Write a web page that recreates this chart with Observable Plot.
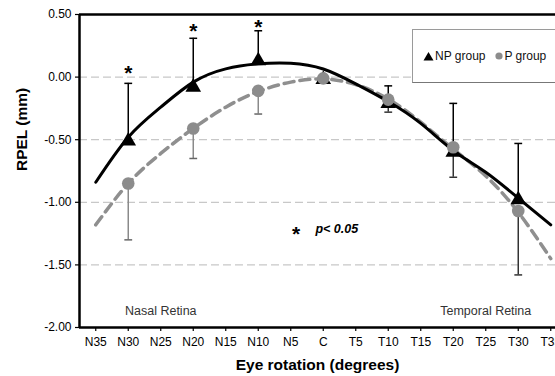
<!DOCTYPE html>
<html>
<head>
<meta charset="utf-8">
<script src="https://cdn.jsdelivr.net/npm/d3@7"></script>
<script src="https://cdn.jsdelivr.net/npm/@observablehq/plot@0.6"></script>
<style>
  html, body { margin: 0; padding: 0; background: #fff; overflow: hidden; }
  #wrap { position: relative; width: 555px; height: 376px; overflow: hidden; font-family: "Liberation Sans", Arial, sans-serif; }
  #legend { position: absolute; left: 412px; top: 29px; width: 170px; height: 54px; box-sizing: border-box;
    border: 1.5px solid #9a9a9a; border-bottom-color: #777; background: #fff; display: flex; align-items: center;
    padding-left: 10px; font-size: 12px; color: #111; white-space: nowrap; }
  #legend svg { display: block; }
</style>
</head>
<body>
<div id="wrap">
  <div id="chart"></div>
  <div id="legend">
    <svg width="11" height="10"><path d="M5.5,1 L10.5,9.5 L0.5,9.5 Z" fill="#000"/></svg>
    <span style="margin-left:1px">NP group</span>
    <svg width="8" height="8" style="margin-left:10px"><circle cx="4" cy="4" r="3.6" fill="#8c8c8c"/></svg>
    <span style="margin-left:1px">P group</span>
  </div>
</div>
<script>
// ---- data ----
const tickDeg = [-35, -30, -25, -20, -15, -10, -5, 0, 5, 10, 15, 20, 25, 30, 35];
const tickLabels = ["N35","N30","N25","N20","N15","N10","N5","C","T5","T10","T15","T20","T25","T30","T35"];
const yTicks = [0.5, 0, -0.5, -1, -1.5, -2];

// measured points (degrees)
const ptDeg = [-30, -20, -10, 0, 10, 20, 30];
const npMean  = [-0.51, -0.08, 0.13, -0.02, -0.21, -0.60, -0.98];
const npUpper = [-0.05, 0.31, 0.37, null, -0.07, -0.21, -0.53];
const pMean   = [-0.85, -0.41, -0.11, -0.01, -0.18, -0.56, -1.07];
const pLower  = [-1.30, -0.65, -0.295, null, -0.28, -0.80, -1.58];

// fitted curves read at each tick
const npCurve = [-0.84, -0.48, -0.24, -0.04, 0.066, 0.106, 0.111, 0.065, -0.054, -0.195, -0.37, -0.586, -0.76, -0.967, -1.18];
const pCurve  = [-1.18, -0.85, -0.61, -0.41, -0.24, -0.115, -0.04, -0.015, -0.06, -0.175, -0.36, -0.575, -0.79, -1.08, -1.45];

// significance markers
const sigDeg = [-30, -20, -10];
const sigY = [0.07, 0.41, 0.44];

// ---- tables ----
const npRows = ptDeg.map((deg, i) => ({deg, mean: npMean[i], upper: npUpper[i]}));
const pRows = ptDeg.map((deg, i) => ({deg, mean: pMean[i], lower: pLower[i]}));
const npBars = npRows.filter(d => d.upper != null);
const pBars = pRows.filter(d => d.lower != null);
const npLine = tickDeg.map((deg, i) => ({deg, v: npCurve[i]}));
const pLine = tickDeg.map((deg, i) => ({deg, v: pCurve[i]}));
const sig = sigDeg.map((deg, i) => ({deg, y: sigY[i]}));

const capHalf = 0.6;

const chart = Plot.plot({
  width: 555,
  height: 376,
  marginLeft: 79,
  marginRight: 0,
  marginTop: 14,
  marginBottom: 49,
  style: {fontFamily: "'Liberation Sans', Arial, sans-serif", fontSize: "12px", color: "#000", background: "#fff"},
  x: {type: "linear", domain: [-37.5, 35.73]},
  y: {domain: [-2, 0.5]},
  marks: [
    Plot.ruleY([0, -0.5, -1, -1.5], {stroke: "#c8c8c8", strokeWidth: 1.3, strokeDasharray: "8,4"}),
    Plot.axisX({ticks: tickDeg, tickFormat: d => tickLabels[tickDeg.indexOf(d)], tickSize: 4, tickPadding: 6, label: null, fontSize: 12, strokeWidth: 1.2}),
    Plot.axisY({ticks: yTicks, tickFormat: d => d.toFixed(2), tickSize: 4, tickPadding: 4, label: null, fontSize: 12, strokeWidth: 1.2}),
    Plot.text(["Eye rotation (degrees)"], {frameAnchor: "bottom", dy: 38, lineAnchor: "middle", fontWeight: "bold", fontSize: 15.5}),
    Plot.text(["RPEL (mm)"], {frameAnchor: "left", dx: -57, rotate: -90, fontWeight: "bold", fontSize: 15.5}),
    // curves
    Plot.line(pLine, {x: "deg", y: "v", curve: "natural", stroke: "#8f8f8f", strokeWidth: 3.5, strokeDasharray: "10,6"}),
    Plot.line(npLine, {x: "deg", y: "v", curve: "natural", stroke: "#000", strokeWidth: 3}),
    // error bars
    Plot.ruleX(pBars, {x: "deg", y1: "mean", y2: "lower", stroke: d => d.deg < 0 ? "#8a8a8a" : "#333", strokeWidth: 1.5}),
    Plot.link(pBars, {x1: d => d.deg - capHalf, x2: d => d.deg + capHalf, y1: "lower", y2: "lower", stroke: d => d.deg < 0 ? "#666" : "#333", strokeWidth: 1.5}),
    Plot.ruleX(npBars, {x: "deg", y1: "mean", y2: "upper", stroke: "#000", strokeWidth: 1.5}),
    Plot.link(npBars, {x1: d => d.deg - capHalf, x2: d => d.deg + capHalf, y1: "upper", y2: "upper", stroke: "#000", strokeWidth: 1.5}),
    // points
    Plot.dot(npRows, {x: "deg", y: "mean", symbol: "triangle", r: 5.8, fill: "#000", stroke: "none"}),
    Plot.dot(pRows, {x: "deg", y: "mean", symbol: "circle", r: 6.3, fill: "#8c8c8c", stroke: "none"}),
    // significance
    Plot.text(sig, {x: "deg", y: "y", text: () => "*", fontWeight: "bold", fontSize: 21, dy: 5}),
    Plot.text(["*"], {x: -4.16, y: -1.213, fontWeight: "bold", fontSize: 21, dy: 5}),
    Plot.text(["p< 0.05"], {x: -1.2, y: -1.213, textAnchor: "start", fontWeight: "bold", fontStyle: "italic", fontSize: 12.5}),
    // region labels
    Plot.text(["Nasal Retina"], {x: -25, y: -1.87, fontSize: 12.5, fill: "#333"}),
    Plot.text(["Temporal Retina"], {x: 25, y: -1.87, fontSize: 12.5, fill: "#333"}),
    // frame (top, bottom, left)
    Plot.ruleY([0.5, -2], {stroke: "#000", strokeWidth: 2.5}),
    Plot.ruleX([-37.5], {stroke: "#000", strokeWidth: 2.5})
  ]
});
document.getElementById("chart").appendChild(chart);
</script>
</body>
</html>
